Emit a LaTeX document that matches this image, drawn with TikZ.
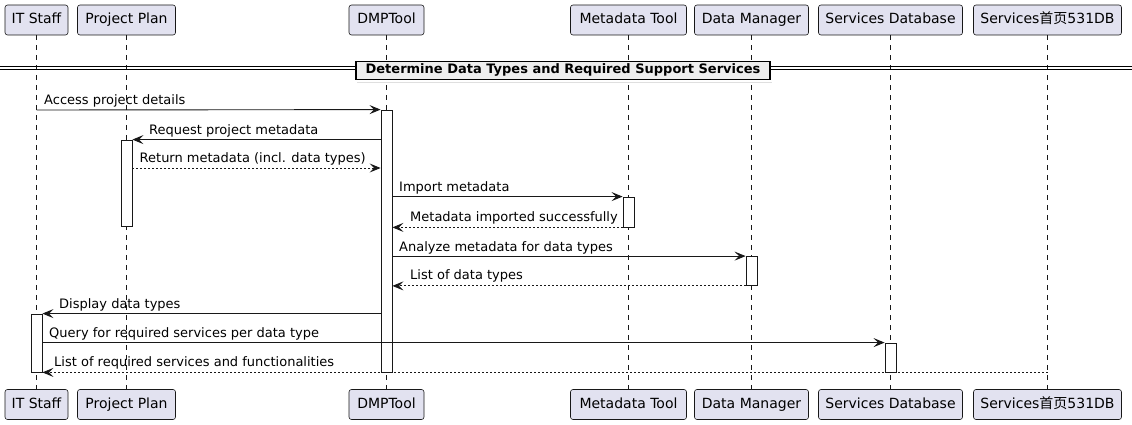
\documentclass[tikz,border=0pt]{standalone}
\usepackage{fontspec}
\setmainfont{DejaVu Sans}
\newfontfamily\cjk{Noto Sans CJK SC}
\usetikzlibrary{arrows.meta}
\definecolor{pfill}{HTML}{E2E2F0}
\definecolor{ink}{HTML}{181818}
\definecolor{divfill}{HTML}{EEEEEE}
\tikzset{
  participant/.style={draw=ink, fill=pfill, rounded corners=2.5pt, minimum height=30pt, inner sep=0pt, text height=10.5pt, text depth=3pt, font=\fontsize{14}{16}\selectfont, line width=0.6pt},
  lifeline/.style={draw=ink, line width=0.5pt, dash pattern=on 5pt off 5pt},
  actbox/.style={draw=ink, fill=white, minimum width=11pt, inner sep=0pt, line width=0.8pt},
  msg/.style={draw=ink, line width=0.9pt, -{Stealth[length=11pt,width=9pt,inset=4.5pt]}},
  ret/.style={msg, dash pattern=on 2pt off 2pt},
  lbl/.style={anchor=base west, inner sep=0pt, font=\fontsize{13}{15}\selectfont, text=black},
  divbox/.style={draw=black, fill=divfill, line width=1.2pt, minimum width=414pt, minimum height=18pt, inner sep=0pt, text height=9.5pt, text depth=2.5pt, font=\fontsize{13}{15}\selectfont\bfseries}
}
\begin{document}
\begin{tikzpicture}[x=1pt,y=-1pt]
\useasboundingbox (0,0) rectangle (1132,425);
% participants top
\node[participant, minimum width=63pt] (tIT) at (36.5,20) {IT Staff};
\node[participant, minimum width=98pt] (tPP) at (126.5,20) {Project Plan};
\node[participant, minimum width=75pt] (tDMP) at (386.5,20) {DMPTool};
\node[participant, minimum width=116pt] (tMT) at (628.5,20) {Metadata Tool};
\node[participant, minimum width=114pt] (tDM) at (751.5,20) {Data Manager};
\node[participant, minimum width=144pt] (tSD) at (890.5,20) {Services Database};
\node[participant, minimum width=148pt] (tSB) at (1047.5,20) {Services{\cjk 首页}531DB};
% participants bottom
\node[participant, minimum width=63pt] (bIT) at (36.5,404.5) {IT Staff};
\node[participant, minimum width=98pt] (bPP) at (126.5,404.5) {Project Plan};
\node[participant, minimum width=75pt] (bDMP) at (386.5,404.5) {DMPTool};
\node[participant, minimum width=116pt] (bMT) at (628.5,404.5) {Metadata Tool};
\node[participant, minimum width=114pt] (bDM) at (751.5,404.5) {Data Manager};
\node[participant, minimum width=144pt] (bSD) at (890.5,404.5) {Services Database};
\node[participant, minimum width=148pt] (bSB) at (1047.5,404.5) {Services{\cjk 首页}531DB};
% lifelines
\foreach \p in {IT,PP,DMP,MT,DM,SD,SB}{
  \draw[lifeline] (t\p.south) -- (b\p.north);
}
% divider
\coordinate (dl) at (0,68);
\coordinate (dr) at (1132,68);
\node[divbox] (div) at (563,70.5) {Determine Data Types and Required Support Services};
\fill[black] ([xshift=1.5pt,yshift=-1.5pt]div.south west) rectangle ([xshift=1.5pt,yshift=-1.5pt]div.south east);
\draw[line width=0.8pt] ([yshift=1.5pt]dl) -- ([yshift=1.5pt]dl -| div.west);
\draw[line width=0.8pt] ([yshift=-1.5pt]dl) -- ([yshift=-1.5pt]dl -| div.west);
\draw[line width=0.8pt] ([yshift=1.5pt]dr -| div.east) -- ([yshift=1.5pt]dr);
\draw[line width=0.8pt] ([yshift=-1.5pt]dr -| div.east) -- ([yshift=-1.5pt]dr);
\node[divbox] (div2) at (563,70.5) {Determine Data Types and Required Support Services};
% activations
\node[actbox, minimum height=262pt] (aDMP) at (386.5,241) {};
\node[actbox, minimum height=86pt] (aPP) at (126.5,183) {};
\node[actbox, minimum height=30pt] (aMT) at (628.5,212) {};
\node[actbox, minimum height=29pt] (aDM) at (751.5,271) {};
\node[actbox, minimum height=58pt] (aIT) at (36.5,343) {};
\node[actbox, minimum height=29pt] (aSD) at (890.5,357.5) {};
% helper coordinates
\coordinate (y110) at (0,110);
\coordinate (y168) at (0,168);
% messages
\draw[msg] (tIT.south |- y110) -- (aDMP.north west);
\node[lbl] (l1) at (44,104.5) {Access project details};
\draw[msg] (aDMP.west |- aPP.north) -- (aPP.north east);
\node[lbl] (l2) at (149,134.5) {Request project metadata};
\draw[ret] (aPP.east |- y168) -- (aDMP.west |- y168);
\node[lbl] (l3) at (139.5,162.5) {Return metadata (incl. data types)};
\draw[msg] (aDMP.east |- aMT.north) -- (aMT.north west);
\node[lbl] (l4) at (399,191.5) {Import metadata};
\draw[ret] (aMT.south west) -- (aDMP.east |- aMT.south);
\node[lbl] (l5) at (410,221.5) {Metadata imported successfully};
\draw[msg] (aDMP.east |- aDM.north) -- (aDM.north west);
\node[lbl] (l6) at (399,251.5) {Analyze metadata for data types};
\draw[ret] (aDM.south west) -- (aDMP.east |- aDM.south);
\node[lbl] (l7) at (410,279.5) {List of data types};
\draw[msg] (aDMP.west |- aIT.north) -- (aIT.north east);
\node[lbl] (l8) at (59,308.5) {Display data types};
\draw[msg] (aIT.east |- aSD.north) -- (aSD.north west);
\node[lbl] (l9) at (49,337.5) {Query for required services per data type};
\draw[ret] (tSB.south |- aSD.south) -- (aIT.south east);
\node[lbl] (l10) at (54,366.5) {List of required services and functionalities};
\end{tikzpicture}
\end{document}
